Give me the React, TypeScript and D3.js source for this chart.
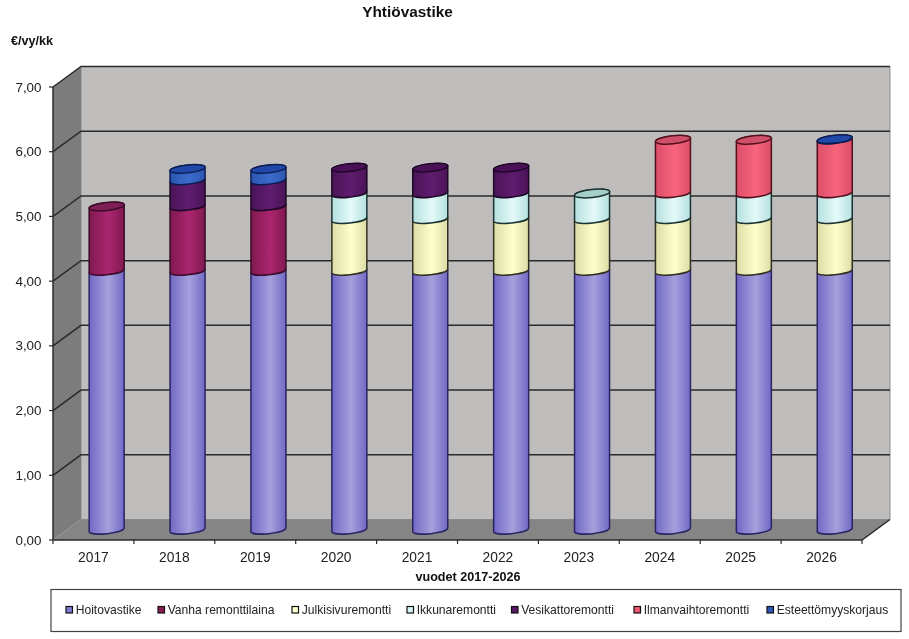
import React from "react";
import * as d3 from "d3";

const years = ["2017", "2018", "2019", "2020", "2021", "2022", "2023", "2024", "2025", "2026"];
const seriesNames = ["Hoitovastike", "Vanha remonttilaina", "Julkisivuremontti", "Ikkunaremontti", "Vesikattoremontti", "Ilmanvaihtoremontti", "Esteettömyyskorjaus"];
const hoitovastike = [4, 4, 4, 4, 4, 4, 4, 4, 4, 4];
const vanhaRemonttilaina = [1, 1, 1, 0, 0, 0, 0, 0, 0, 0];
const julkisivuremontti = [0, 0, 0, 0.8, 0.8, 0.8, 0.8, 0.8, 0.8, 0.8];
const ikkunaremontti = [0, 0, 0, 0.4, 0.4, 0.4, 0.4, 0.4, 0.4, 0.4];
const vesikattoremontti = [0, 0.4, 0.4, 0.4, 0.4, 0.4, 0, 0, 0, 0];
const ilmanvaihtoremontti = [0, 0, 0, 0, 0, 0, 0, 0.83, 0.83, 0.83];
const esteettomyyskorjaus = [0, 0.18, 0.18, 0, 0, 0, 0, 0, 0, 0.01];
const seriesValues = [hoitovastike, vanhaRemonttilaina, julkisivuremontti, ikkunaremontti, vesikattoremontti, ilmanvaihtoremontti, esteettomyyskorjaus];
const yTicks = [0, 1, 2, 3, 4, 5, 6, 7];
const legendSwatchX = [66, 158, 292, 407, 511.5, 634, 767];

const palette = [
  { edge: "#7169c4", mid: "#a6a0dd", top: "#8880cc", line: "#2a2462", sw: "#7f78cf" },
  { edge: "#80194f", mid: "#aa2670", top: "#7d1f55", line: "#3a0a28", sw: "#8c1c58" },
  { edge: "#dcdca6", mid: "#ffffcc", top: "#e8e8b0", line: "#303020", sw: "#ffffcc" },
  { edge: "#b4e0de", mid: "#e4fafa", top: "#a4d0c8", line: "#1c3232", sw: "#d4f6f6" },
  { edge: "#4a1456", mid: "#601c70", top: "#4a1058", line: "#1c0824", sw: "#5a1868" },
  { edge: "#dc4e68", mid: "#f8647e", top: "#d0506a", line: "#50101c", sw: "#f0566e" },
  { edge: "#2c56ae", mid: "#3a6cce", top: "#2048a8", line: "#0c1c50", sw: "#2c58b8" },
];

const font = "'Liberation Sans', Arial, sans-serif";
const depthX = 28;
const depthY = -20.5;
const frontLeft = 53;
const frontRight = 862;
const frontBase = 540;
const frontTop = 87;
const barOffsetX = 13.2;
const barOffsetY = -10;
const barWidth = 35;
const ry = 4;
const tilt = -6;

const x = d3.scaleBand<string>().domain(years).range([frontLeft, frontRight]);
const y = d3.scaleLinear().domain([0, 7]).range([frontBase, frontTop]);

const table = years.map((year, i) => {
  const row: Record<string, number | string> = { year };
  seriesNames.forEach((n, s) => (row[n] = seriesValues[s][i]));
  return row;
});
const stacked = d3.stack<any>().keys(seriesNames)(table);

const rx = barWidth / 2 + 0.15;
const dy = Math.tan((tilt * Math.PI) / 180) * (barWidth / 2);

function bodyPath(cx: number, yTop: number, yBottom: number) {
  const l = cx - barWidth / 2;
  const r = cx + barWidth / 2;
  return [
    `M${l},${yTop - dy}`,
    `A${rx},${ry} ${tilt} 0 1 ${r},${yTop + dy}`,
    `L${r},${yBottom + dy}`,
    `A${rx},${ry} ${tilt} 0 1 ${l},${yBottom - dy}`,
    "Z",
  ].join(" ");
}

export default function App() {
  const gridY = yTicks.map((t) => y(t));
  return (
    <svg width={909} height={639} style={{ position: "absolute", left: 0, top: 0, display: "block", background: "#fff", fontFamily: font, filter: "blur(0.45px)" }}>
      <defs>
        {palette.map((p, i) => (
          <linearGradient key={i} id={`g${i}`} x1="0" x2="1" y1="0" y2="0">
            <stop offset="0" stopColor={p.edge} />
            <stop offset="0.55" stopColor={p.mid} />
            <stop offset="1" stopColor={p.edge} />
          </linearGradient>
        ))}
      </defs>

      <text x={407.5} y={17} textAnchor="middle" fontSize={15.4} fontWeight="bold" fill="#111">Yhtiövastike</text>
      <text x={11} y={45} fontSize={12.6} fontWeight="bold" fill="#111">€/vy/kk</text>

      <polygon points={`${frontLeft + depthX},${frontTop + depthY} ${frontRight + depthX},${frontTop + depthY} ${frontRight + depthX},${frontBase + depthY} ${frontLeft + depthX},${frontBase + depthY}`} fill="#bfbdbc" stroke="#8e8e8e" strokeWidth={1} />
      <polygon points={`${frontLeft},${frontTop} ${frontLeft + depthX},${frontTop + depthY} ${frontLeft + depthX},${frontBase + depthY} ${frontLeft},${frontBase}`} fill="#7c7c7c" />
      <polygon points={`${frontLeft},${frontBase} ${frontLeft + depthX},${frontBase + depthY} ${frontRight + depthX},${frontBase + depthY} ${frontRight},${frontBase}`} fill="#858585" />

      {gridY.map((gy, i) => (
        <g key={i} stroke="#2b2b2b" strokeWidth={1.5} fill="none">
          {i > 0 && (
            <polyline points={`${frontLeft},${gy} ${frontLeft + depthX},${gy + depthY} ${frontRight + depthX},${gy + depthY}`} />
          )}
        </g>
      ))}
      <polyline points={`${frontLeft},${frontBase} ${frontRight},${frontBase} ${frontRight + depthX},${frontBase + depthY}`} fill="none" stroke="#2b2b2b" strokeWidth={1.5} />
      <line x1={frontLeft} x2={frontLeft} y1={frontTop} y2={frontBase} stroke="#2b2b2b" strokeWidth={1.5} />

      {yTicks.map((t) => (
        <g key={t}>
          <line x1={frontLeft - 4} x2={frontLeft} y1={y(t)} y2={y(t)} stroke="#2b2b2b" strokeWidth={1.2} />
          <text x={41.5} y={y(t) + 4.5} textAnchor="end" fontSize={13.4} fill="#222">{d3.format(".2f")(t).replace(".", ",")}</text>
        </g>
      ))}
      {[...years.map((yr) => x(yr) as number), frontRight].map((tx, i) => (
        <line key={i} x1={tx} x2={tx} y1={frontBase} y2={frontBase + 4} stroke="#2b2b2b" strokeWidth={1.2} />
      ))}
      {years.map((yr) => (
        <text key={yr} x={(x(yr) as number) + x.bandwidth() / 2} y={561.5} textAnchor="middle" fontSize={13.8} fill="#222">{yr}</text>
      ))}
      <text x={468} y={581} textAnchor="middle" fontSize={12.6} fontWeight="bold" fill="#111">vuodet 2017-2026</text>

      {years.map((yr, i) => {
        const cx = (x(yr) as number) + x.bandwidth() / 2 + barOffsetX;
        const layers = stacked.map((s, k) => ({ k, y0: s[i][0], y1: s[i][1] })).filter((l) => l.y1 > l.y0);
        const last = layers[layers.length - 1];
        return (
          <g key={yr}>
            {layers.map((l) => (
              <path key={l.k} d={bodyPath(cx, y(l.y1) + barOffsetY, y(l.y0) + barOffsetY)} fill={`url(#g${l.k})`} stroke={palette[l.k].line} strokeWidth={1.5} />
            ))}
            <ellipse cx={cx} cy={y(last.y1) + barOffsetY} rx={rx} ry={ry} transform={`rotate(${tilt} ${cx} ${y(last.y1) + barOffsetY})`} fill={palette[last.k].top} stroke={palette[last.k].line} strokeWidth={1.5} />
          </g>
        );
      })}

      <rect x={51} y={589.5} width={850} height={42} fill="#fff" stroke="#444" strokeWidth={1.2} />
      {seriesNames.map((n, i) => (
        <g key={n}>
          <rect x={legendSwatchX[i]} y={606.5} width={6.5} height={6.5} fill={palette[i].sw} stroke="#111" strokeWidth={1.2} />
          <text x={legendSwatchX[i] + 9.7} y={614} fontSize={12.1} fill="#222">{n}</text>
        </g>
      ))}
    </svg>
  );
}
